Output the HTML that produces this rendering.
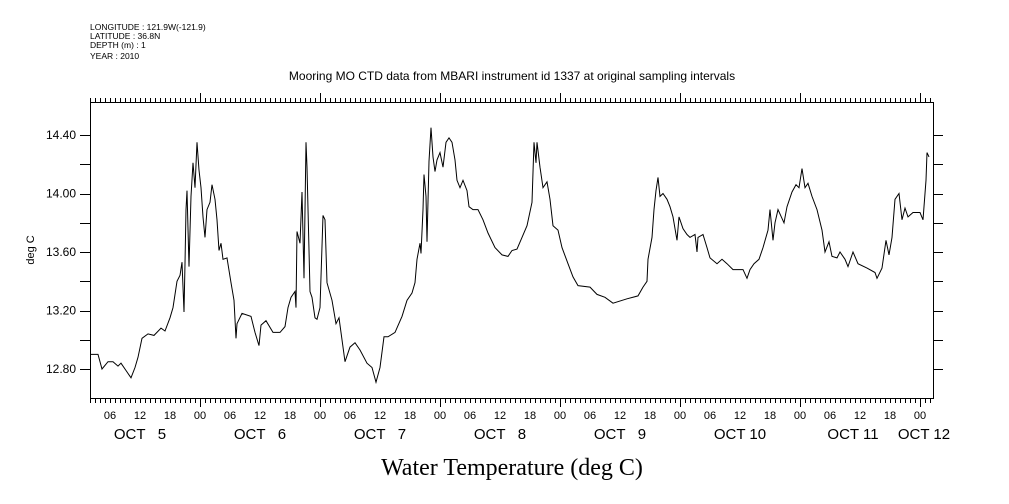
<!DOCTYPE html>
<html><head><meta charset="utf-8"><style>
html,body{margin:0;padding:0;background:#fff;}
svg{display:block;font-family:"Liberation Sans",sans-serif;}
</style></head><body>
<svg id="chart" width="1009" height="504" viewBox="0 0 1009 504" xmlns="http://www.w3.org/2000/svg">
<g font-size="8.5" fill="#000">
<text x="90" y="30">LONGITUDE : 121.9W(-121.9)</text>
<text x="90" y="39">LATITUDE : 36.8N</text>
<text x="90" y="48">DEPTH (m) : 1</text>
<text x="90" y="59">YEAR : 2010</text>
</g>
<text x="512" y="80" text-anchor="middle" font-size="12">Mooring MO CTD data from MBARI instrument id 1337 at original sampling intervals</text>
<text x="0" y="0" transform="translate(34,250) rotate(-90)" text-anchor="middle" font-size="11">deg C</text>
<text x="512" y="475" text-anchor="middle" font-size="24" font-family="Liberation Serif, serif">Water Temperature (deg C)</text>
<g id="axes"></g>
<g id="series"></g>
</svg>
<script>
const hours=[2.1,3.6,4.4,5.6,6.6,7.6,8.2,9.2,10.2,11.0,11.6,12.4,13.6,14.8,16.2,17.0,18.0,18.6,19.4,20.0,20.4,20.8,21.0,21.2,21.4,21.8,22.2,22.6,23.0,23.4,23.8,24.2,24.6,25.0,25.4,26.0,26.4,27.0,27.4,27.8,28.2,28.6,29.4,30.2,30.8,31.2,31.4,32.4,34.2,35.0,35.8,36.2,37.2,38.6,40.0,41.0,41.6,42.2,43.0,43.2,43.4,44.0,44.4,44.8,45.2,45.4,46.0,46.4,47.0,47.4,48.0,48.6,49.0,49.4,50.4,51.2,51.8,53.0,54.0,55.0,56.0,57.4,58.4,59.2,60.0,60.8,61.6,63.0,64.4,65.4,66.4,67.0,67.4,68.0,68.2,68.6,68.8,69.2,69.4,69.8,70.2,70.6,71.0,71.4,72.0,72.6,73.2,73.8,74.4,75.0,75.4,76.0,76.6,77.4,77.8,78.6,79.6,80.6,81.6,83.0,84.4,85.6,86.4,87.4,88.4,89.4,90.4,90.8,91.2,91.4,92.0,92.6,93.4,94.0,94.6,95.6,96.4,97.6,98.6,99.6,102.0,103.4,105.0,106.6,109.4,111.6,112.6,113.4,113.6,114.4,114.8,115.2,115.6,116.0,116.6,117.4,118.0,118.6,119.4,119.8,120.6,121.4,122.0,123.0,123.4,123.6,124.6,125.4,126.0,127.4,128.4,129.4,130.6,131.6,132.6,133.4,134.0,134.8,135.8,136.6,137.6,138.0,138.6,139.0,139.6,140.4,140.8,141.4,142.4,143.2,143.8,144.4,145.0,145.6,146.4,147.4,148.4,149.0,149.8,150.4,151.4,152.0,153.0,153.6,154.6,155.6,157.4,159.0,159.4,160.4,161.2,161.8,162.4,163.0,163.8,164.4,165.0,165.6,166.6,168.0,168.6,169.2,169.4,169.8];
const temps=[12.90,12.90,12.80,12.85,12.85,12.82,12.84,12.79,12.74,12.81,12.88,13.01,13.04,13.03,13.08,13.06,13.15,13.22,13.40,13.44,13.53,13.19,13.52,13.89,14.02,13.50,13.98,14.21,14.04,14.35,14.16,14.04,13.84,13.70,13.89,13.94,14.06,13.96,13.82,13.61,13.66,13.55,13.56,13.39,13.27,13.01,13.11,13.18,13.16,13.05,12.96,13.10,13.13,13.05,13.05,13.09,13.22,13.29,13.33,13.22,13.74,13.66,14.01,13.42,14.35,14.18,13.33,13.29,13.15,13.14,13.22,13.85,13.82,13.39,13.27,13.11,13.15,12.85,12.95,12.98,12.93,12.84,12.81,12.71,12.81,13.02,13.02,13.05,13.16,13.27,13.32,13.39,13.55,13.66,13.59,13.89,14.13,13.98,13.67,14.22,14.45,14.25,14.15,14.23,14.28,14.18,14.35,14.38,14.35,14.23,14.09,14.04,14.09,14.02,13.91,13.89,13.89,13.82,13.73,13.63,13.58,13.57,13.61,13.62,13.70,13.78,13.94,14.35,14.21,14.35,14.18,14.04,14.08,13.96,13.78,13.75,13.63,13.52,13.43,13.37,13.36,13.31,13.29,13.25,13.28,13.30,13.36,13.40,13.55,13.70,13.89,14.02,14.11,13.98,14.00,13.96,13.91,13.84,13.68,13.84,13.76,13.72,13.70,13.72,13.60,13.70,13.72,13.63,13.56,13.52,13.55,13.52,13.48,13.48,13.48,13.42,13.48,13.52,13.55,13.63,13.75,13.89,13.68,13.80,13.89,13.83,13.80,13.91,14.01,14.06,14.04,14.17,14.04,14.07,13.98,13.89,13.75,13.60,13.67,13.57,13.56,13.60,13.55,13.50,13.60,13.52,13.49,13.46,13.42,13.49,13.68,13.58,13.70,13.96,14.00,13.82,13.90,13.84,13.87,13.87,13.82,14.09,14.28,14.25];
const yTicks=[12.8,13.0,13.2,13.4,13.6,13.8,14.0,14.2,14.4];
const yLabels=["12.80","13.20","13.60","14.00","14.40"];
const hourLabelTimes=[6,12,18,24,30,36,42,48,54,60,66,72,78,84,90,96,102,108,114,120,126,132,138,144,150,156,162,168];
const dayLabels=["OCT   5","OCT   6","OCT   7","OCT   8","OCT   9","OCT 10","OCT 11","OCT 12"];
const dayLabelHours=[12,36,60,84,108,132,154.6,168.8];

const X0=90,X1=933,Y0=102,Y1=398;
const HMIN=2,HMAX=170.6;
function xs(h){return X0+(h-HMIN)*(X1-X0)/(HMAX-HMIN);}
function ys(v){return 369+(12.8-v)*(369-135)/1.6;}
const NS='http://www.w3.org/2000/svg';
const axes=document.getElementById('axes');
const ser=document.getElementById('series');
function mk(tag,at,parent){const e=document.createElementNS(NS,tag);for(const k in at)e.setAttribute(k,at[k]);parent.appendChild(e);return e;}

const frame=mk('rect',{x:X0+0.5,y:Y0+0.5,width:X1-X0,height:Y1-Y0,fill:'none',stroke:'#000','stroke-width':1},axes);



let dt='';
for(let h=Math.ceil(HMIN);h<=HMAX;h++){
  const x=(Math.round(xs(h))+0.5);
  const major=(h%24===0);
  dt+=`M${x} ${Y1}V${Y1+(major?9:5)}M${x} ${Y0}V${Y0-(major?9:4)}`;
}
for(const v of yTicks){
  const y=(Math.round(ys(v))+0.5);
  dt+=`M${X0} ${y}H${X0-10}M${X1} ${y}H${X1+10}`;
}
const tk=mk('path',{d:dt,stroke:'#000','stroke-width':1,fill:'none'},axes);



yLabels.forEach(l=>{
  const t=mk('text',{x:76,y:ys(parseFloat(l))+4,'text-anchor':'end','font-size':12},axes);
  t.textContent=l;
  
  
});
hourLabelTimes.forEach(h=>{
  const t=mk('text',{x:xs(h),y:419,'text-anchor':'middle','font-size':11},axes);
  t.textContent=String(h%24).padStart(2,'0');
  
  
});
dayLabels.forEach((l,i)=>{
  const t=mk('text',{x:xs(dayLabelHours[i]),y:439,'text-anchor':'middle','font-size':15},axes);
  t.setAttribute('style','white-space:pre');
  t.textContent=l;
  
  
});

let d='';
hours.forEach((h,i)=>{d+=(i?'L':'M')+xs(h).toFixed(1)+' '+ys(temps[i]).toFixed(1);});
const line=mk('path',{d:d,fill:'none',stroke:'#000','stroke-width':1,'stroke-linejoin':'miter'},ser);


</script>
</body></html>
